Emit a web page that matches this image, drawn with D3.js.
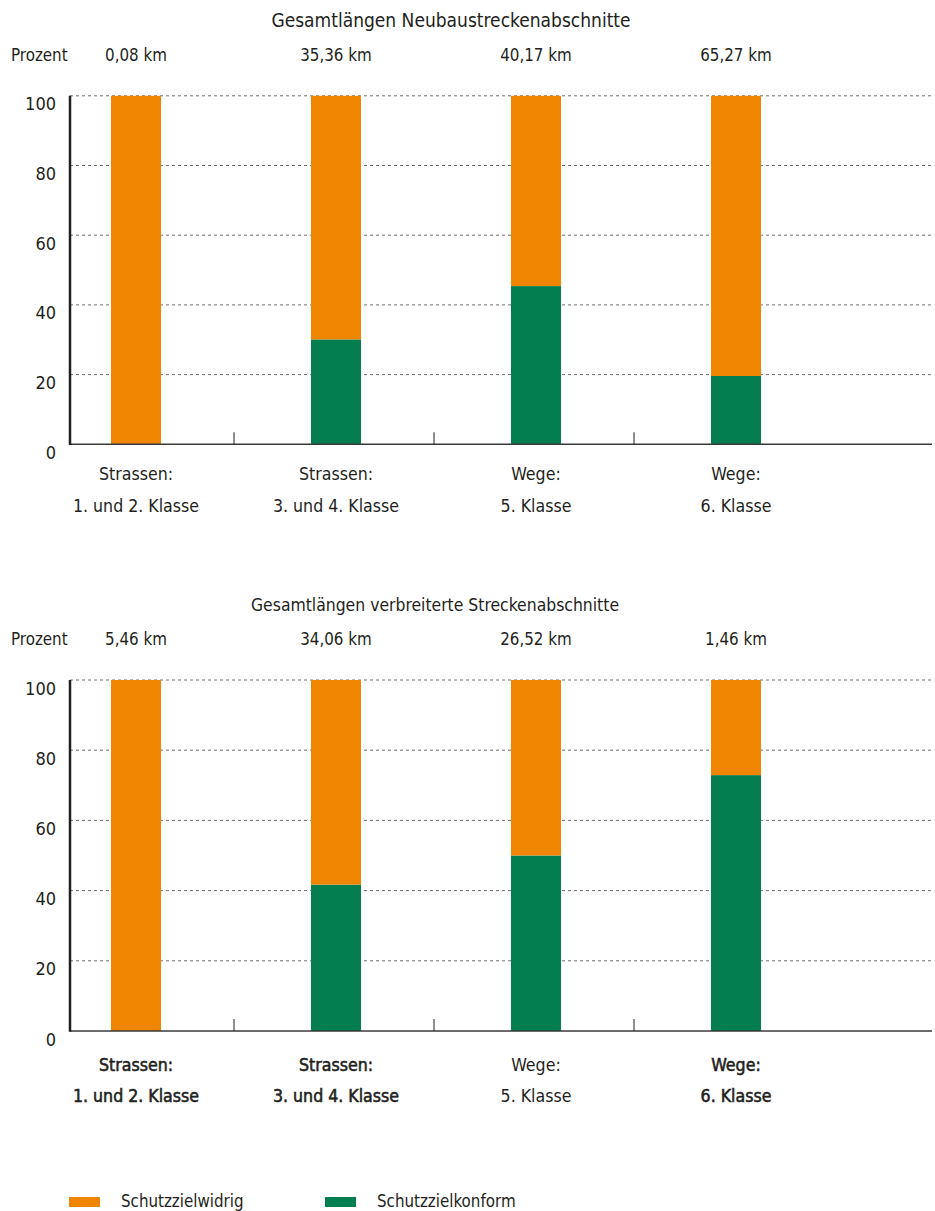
<!DOCTYPE html>
<html>
<head>
<meta charset="utf-8">
<script src="https://cdn.jsdelivr.net/npm/d3@7/dist/d3.min.js"></script>
<style>
  html, body { margin: 0; padding: 0; background: #fff; }
  svg { display: block; }
  text { font-family: "Liberation Sans Narrow", "DejaVu Sans Condensed", "Roboto", sans-serif; fill: #231f20; }
</style>
</head>
<body>
<svg id="chart" width="935" height="1211"></svg>
<script>
// ---- data ----
const categoryLine1 = ["Strassen:", "Strassen:", "Wege:", "Wege:"];
const categoryLine2 = ["1. und 2. Klasse", "3. und 4. Klasse", "5. Klasse", "6. Klasse"];
const categories = ["k12", "k34", "k5", "k6"];
const yTicks = [0, 20, 40, 60, 80, 100];
const seriesNames = ["Schutzzielkonform", "Schutzzielwidrig"];

const titleNeubau = "Gesamtlängen Neubaustreckenabschnitte";
const kmNeubau = ["0,08 km", "35,36 km", "40,17 km", "65,27 km"];
const konformNeubau = [0, 30.1, 45.4, 19.6];
const widrigNeubau = [100, 69.9, 54.6, 80.4];

const titleVerbreitert = "Gesamtlängen verbreiterte Streckenabschnitte";
const kmVerbreitert = ["5,46 km", "34,06 km", "26,52 km", "1,46 km"];
const konformVerbreitert = [0, 41.7, 50.0, 72.9];
const widrigVerbreitert = [100, 58.3, 50.0, 27.1];

// ---- styles ----
const colors = { Schutzzielwidrig: "#ef8500", Schutzzielkonform: "#027e51" };
const fs = { head: 16.8, tick: 18, cat: 17.6, legend: 16.8 };
const svg = d3.select("#chart");

function drawChart(cfg) {
  const g = svg.append("g");
  const x = d3.scaleBand().domain(categories).range([36, 836])
    .paddingInner(0.75).paddingOuter(0.375);
  const y = d3.scaleLinear().domain([0, 100]).range([cfg.y0, cfg.y100]);
  const axisLeft = 70, axisRight = 932;

  // gridlines
  g.selectAll("line.grid").data(yTicks.filter(d => d > 0)).join("line")
    .attr("x1", axisLeft).attr("x2", axisRight)
    .attr("y1", d => y(d)).attr("y2", d => y(d))
    .attr("stroke", "#6f6f6f").attr("stroke-width", 1)
    .attr("stroke-dasharray", "3,3");

  // y tick labels
  g.selectAll("text.ytick").data(yTicks).join("text")
    .attr("x", 56).attr("y", d => y(d) + 14.5)
    .attr("text-anchor", "end").attr("font-size", fs.tick)
    .text(d => d);

  // stacked bars
  const rows = categories.map((c, i) => ({
    cat: c,
    Schutzzielkonform: cfg.konform[i],
    Schutzzielwidrig: cfg.widrig[i]
  }));
  const stack = d3.stack().keys(seriesNames)(rows);
  g.selectAll("g.series").data(stack).join("g")
    .attr("fill", s => colors[s.key])
    .selectAll("rect").data(s => s).join("rect")
    .attr("x", d => x(d.data.cat))
    .attr("width", x.bandwidth())
    .attr("y", d => y(d[1]))
    .attr("height", d => y(d[0]) - y(d[1]));

  // baseline
  g.append("line").attr("x1", axisLeft).attr("x2", axisRight)
    .attr("y1", y(0)).attr("y2", y(0))
    .attr("stroke", "#3a3a3a").attr("stroke-width", 1.5);
  // y axis line
  g.append("line").attr("x1", axisLeft).attr("x2", axisLeft)
    .attr("y1", y(100)).attr("y2", y(0) + 0.75)
    .attr("stroke", "#231f20").attr("stroke-width", 2.5);

  // dividers between categories
  const centers = categories.map(c => x(c) + x.bandwidth() / 2);
  const dividers = centers.slice(0, -1).map((c, i) => (c + centers[i + 1]) / 2 - 2);
  g.selectAll("line.div").data(dividers).join("line")
    .attr("x1", d => d).attr("x2", d => d)
    .attr("y1", y(0) - 12).attr("y2", y(0))
    .attr("stroke", "#231f20").attr("stroke-width", 1);

  // title
  g.append("text").attr("x", cfg.titleX).attr("y", y(100) - 69)
    .attr("text-anchor", "middle").attr("font-size", cfg.titleSize).text(cfg.title);
  // Prozent
  g.append("text").attr("x", 11).attr("y", y(100) - 35)
    .attr("font-size", fs.head).text("Prozent");
  // km labels
  g.selectAll("text.km").data(cfg.km).join("text")
    .attr("x", (d, i) => centers[i]).attr("y", y(100) - 35)
    .attr("text-anchor", "middle").attr("font-size", fs.head).text(d => d);

  // category labels
  const lab = g.selectAll("g.cat").data(categories).join("g")
    .attr("transform", (d, i) => `translate(${centers[i]},0)`)
    .attr("stroke", (d, i) => cfg.heavy[i] ? "#231f20" : "none")
    .attr("stroke-width", 0.55);
  lab.append("text").attr("y", cfg.lab1).attr("text-anchor", "middle")
    .attr("font-size", fs.cat).text((d, i) => categoryLine1[i]);
  lab.append("text").attr("y", cfg.lab2).attr("text-anchor", "middle")
    .attr("font-size", fs.cat).text((d, i) => categoryLine2[i]);
}

drawChart({
  title: titleNeubau, titleX: 451, titleSize: 19, km: kmNeubau,
  konform: konformNeubau, widrig: widrigNeubau,
  y0: 444.3, y100: 95.8, lab1: 480, lab2: 511.5,
  heavy: [false, false, false, false]
});
drawChart({
  title: titleVerbreitert, titleX: 435, titleSize: 17.4, km: kmVerbreitert,
  konform: konformVerbreitert, widrig: widrigVerbreitert,
  y0: 1031, y100: 680, lab1: 1071, lab2: 1101.5,
  heavy: [true, true, false, true]
});

// legend
const legendItems = [
  { name: "Schutzzielwidrig", x: 69 },
  { name: "Schutzzielkonform", x: 325 }
];
const leg = svg.selectAll("g.legend").data(legendItems).join("g")
  .attr("transform", d => `translate(${d.x},1197)`);
leg.append("rect").attr("width", 31).attr("height", 10)
  .attr("fill", d => colors[d.name]);
leg.append("text").attr("x", 52).attr("y", 10).attr("font-size", fs.legend)
  .text(d => d.name);
</script>
</body>
</html>
